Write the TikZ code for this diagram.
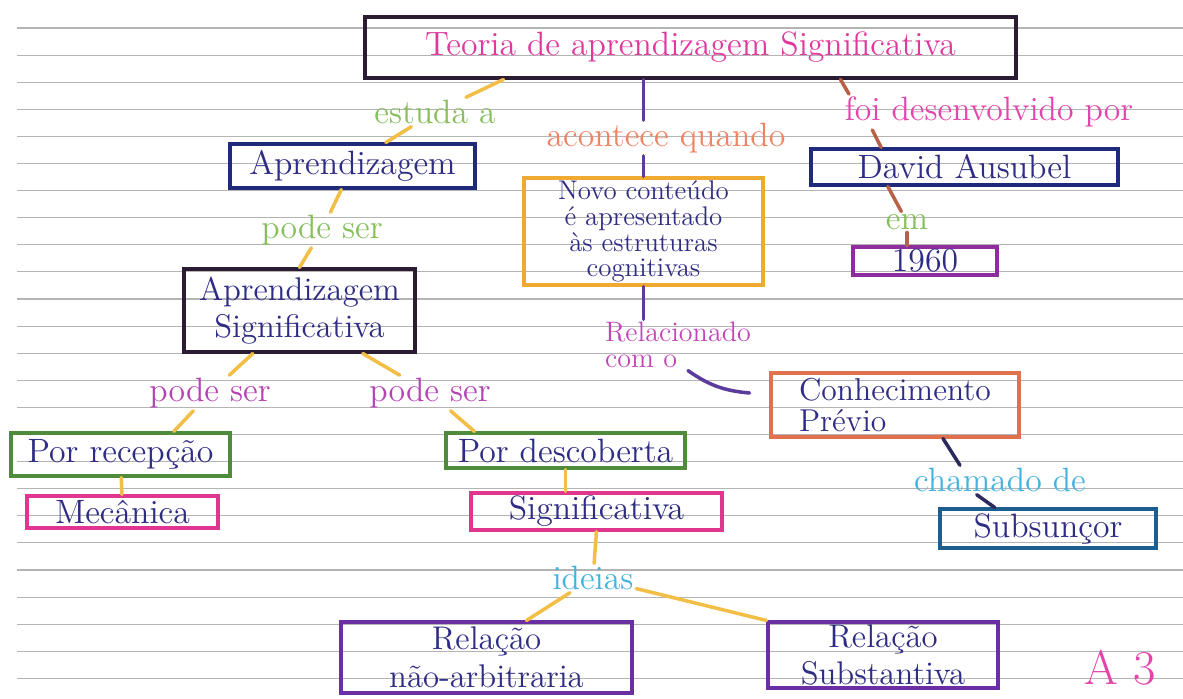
\documentclass[tikz,border=0pt]{standalone}
\usepackage{fontspec}
\definecolor{rulegray}{HTML}{B4B4B4}
\definecolor{inkblue}{HTML}{2E2C84}
\definecolor{titleink}{HTML}{2B1B33}
\definecolor{teopink}{HTML}{E0399E}
\definecolor{navyink}{HTML}{1F2A7A}
\definecolor{leafgreen}{HTML}{4E8C3C}
\definecolor{markpink}{HTML}{E0368F}
\definecolor{violetink}{HTML}{6B2FA3}
\definecolor{orangeink}{HTML}{F0AA32}
\definecolor{salmonink}{HTML}{E0704E}
\definecolor{tealink}{HTML}{1D5E8E}
\definecolor{plumink}{HTML}{8E2E9E}
\definecolor{labgreen}{HTML}{86BF5C}
\definecolor{labviolet}{HTML}{B444B4}
\definecolor{labcyan}{HTML}{45B3E0}
\definecolor{labsalmon}{HTML}{F08462}
\definecolor{labmagenta}{HTML}{C245B8}
\definecolor{labpink}{HTML}{E445AC}
\definecolor{linkorange}{HTML}{F2BE45}
\definecolor{linkpurple}{HTML}{5B3C9C}
\definecolor{linkbrown}{HTML}{B8604A}
\definecolor{linkdark}{HTML}{2C2A5C}
\begin{document}
\begin{tikzpicture}[x=0.015cm,y=-0.015cm,
  box/.style={draw,line width=1.3pt,text=inkblue,font=\Large,inner sep=1pt,align=center},
  link/.style={font=\Large,inner sep=1pt,align=center},
  ruled/.style={draw=rulegray,line width=0.5pt},
  orangelink/.style={color=linkorange,line width=1.5pt,line cap=round},
  purplelink/.style={color=linkpurple,line width=1.5pt,line cap=round},
  brownlink/.style={color=linkbrown,line width=1.5pt,line cap=round},
  darklink/.style={color=linkdark,line width=1.5pt,line cap=round}]

  \fill[white] (0,0) rectangle (1183,699);
  \useasboundingbox (0,0) rectangle (1183,699);
  \foreach \k in {0,...,24}
    \draw[ruled] (17,{28+27.1*\k}) -- (1183,{28+27.1*\k});

  \node[box,draw=titleink,text=teopink,minimum width=9.765cm,minimum height=0.915cm] (teoria) at (690.5,47.5) {Teoria de aprendizagem Significativa};
  \node[box,draw=navyink,minimum width=3.675cm,minimum height=0.66cm] (aprend) at (352.5,166) {Aprendizagem};
  \node[box,draw=titleink,minimum width=3.465cm,minimum height=1.245cm,font=\fontsize{14}{16}\selectfont] (aprsig) at (299.5,310.5) {Aprendizagem\\Significativa};
  \node[box,draw=leafgreen,minimum width=3.285cm,minimum height=0.645cm] (recep) at (120.5,454.5) {Por recepção};
  \node[box,draw=markpink,minimum width=2.865cm,minimum height=0.48cm] (mecanica) at (122.5,512) {Mecânica};
  \node[box,draw=leafgreen,minimum width=3.585cm,minimum height=0.525cm] (descob) at (565.5,450.5) {Por descoberta};
  \node[box,draw=markpink,minimum width=3.765cm,minimum height=0.555cm] (signif) at (596.5,511.5) {Significativa};
  \node[box,draw=violetink,minimum width=4.365cm,minimum height=1.065cm,font=\fontsize{14}{16}\selectfont] (naoarb) at (486.5,657.5) {Relação\\não-arbitraria};
  \node[box,draw=violetink,minimum width=3.45cm,minimum height=0.99cm,font=\fontsize{14}{16}\selectfont] (substan) at (883,655) {Relação\\Substantiva};
  \node[box,draw=orangeink,minimum width=3.585cm,minimum height=1.605cm,font=\fontsize{11.5}{11}\selectfont] (novo) at (643.5,231.5) {Novo conteúdo\\é apresentado\\às estruturas\\cognitivas};
  \node[box,draw=salmonink,minimum width=3.72cm,minimum height=0.96cm,align=left,font=\fontsize{13.5}{13}\selectfont] (conhec) at (895,405) {Conhecimento\\Prévio};
  \node[box,draw=tealink,minimum width=3.24cm,minimum height=0.585cm] (subsun) at (1048,528.5) {Subsunçor};
  \node[box,draw=navyink,minimum width=4.605cm,minimum height=0.54cm] (david) at (964.5,167) {David Ausubel};
  \node[box,draw=plumink,minimum width=2.16cm,minimum height=0.42cm] (ano) at (925,261) {1960};

  \node[link,text=labgreen] (estuda) at (435,112) {estuda a};
  \node[link,text=labgreen] (podeser1) at (322,230) {pode ser};
  \node[link,text=labviolet] (podeser2) at (210,393) {pode ser};
  \node[link,text=labviolet] (podeser3) at (430,393) {pode ser};
  \node[link,text=labcyan] (ideias) at (593,578) {ideias};
  \node[link,text=labsalmon] (acontece) at (666,138) {acontece quando};
  \node[link,text=labmagenta,align=left,font=\fontsize{12}{11}\selectfont] (relac) at (678,345) {Relacionado\\com o};
  \node[link,text=labcyan] (chamado) at (1000,480) {chamado de};
  \node[link,text=labpink] (foi) at (989,112) {foi desenvolvido por};
  \node[link,text=labgreen] (em) at (907,222) {em};
  \node[text=labpink,font=\huge,inner sep=1pt] (assin) at (1120,668) {A 3};

  \path[orangelink]
   ([xshift=2.1cm]teoria.south west) edge (estuda)
   (estuda) edge ([xshift=0.5cm]aprend.north)
   (aprend) edge (podeser1)
   (podeser1) edge (aprsig.north)
   ([xshift=-0.7cm]aprsig.south) edge (podeser2)
   (podeser2) edge ([xshift=0.8cm]recep.north)
   ([xshift=0.95cm]aprsig.south) edge (podeser3)
   (podeser3) edge ([xshift=0.45cm]descob.north west)
   (recep) edge (mecanica)
   (descob.south) edge (signif.north -| descob.south)
   (signif.south) edge (ideias)
   (ideias) edge ([xshift=0.6cm]naoarb.north)
   (ideias) edge (substan.north west);

  \path[purplelink]
   (teoria.south -| novo.north) edge (acontece.north -| novo.north)
   (acontece.south -| novo.north) edge (novo.north)
   (novo.south) edge (relac.north -| novo.south)
   ([xshift=0.15cm]relac.south) edge[bend right=15] ([xshift=-0.3cm,yshift=0.18cm]conhec.west);

  \path[darklink]
   ([xshift=0.72cm]conhec.south) edge ([xshift=-0.6cm]chamado.north)
   ([xshift=-0.35cm]chamado.south) edge ([xshift=-0.8cm]subsun.north);

  \path[brownlink]
   ([xshift=2.25cm]teoria.south) edge ([xshift=-2.1cm]foi.north)
   ([xshift=-1.75cm]foi.south) edge ([xshift=-1.25cm]david.north)
   ([xshift=-1.15cm]david.south) edge (em)
   (em.south) edge (ano.north -| em.south);
\end{tikzpicture}
\end{document}
